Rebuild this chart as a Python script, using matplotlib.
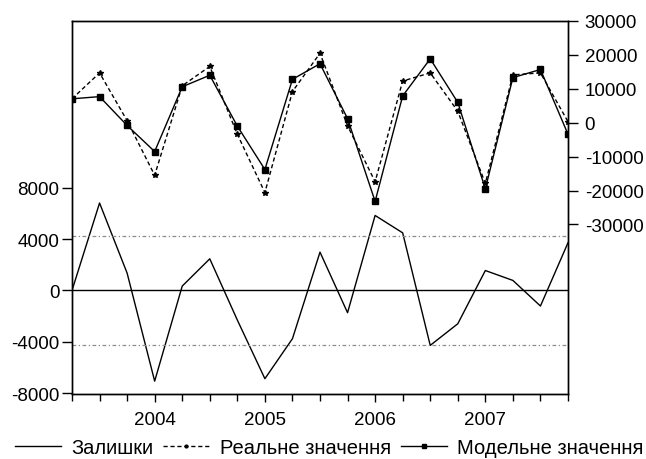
import matplotlib
matplotlib.use("Agg")
import matplotlib.pyplot as plt
from matplotlib.lines import Line2D
import numpy as np

plt.rcParams['font.family'] = ['Liberation Sans', 'DejaVu Sans']

# Quarterly observations 2003Q2 .. 2007Q4
quarters = ["2003Q2", "2003Q3", "2003Q4",
            "2004Q1", "2004Q2", "2004Q3", "2004Q4",
            "2005Q1", "2005Q2", "2005Q3", "2005Q4",
            "2006Q1", "2006Q2", "2006Q3", "2006Q4",
            "2007Q1", "2007Q2", "2007Q3", "2007Q4"]
actual = [7050, 14700, 600, -15500, 10900, 16600, -3400, -20600, 9200, 20500,
          -900, -17400, 12300, 14700, 3400, -17900, 14100, 14700, 300]
fitted = [7050, 7700, -800, -8500, 10600, 14000, -1000, -13800, 12800, 17400,
          1200, -23200, 7900, 18850, 6000, -19500, 13300, 15700, -3400]
residual = [0, 6800, 1350, -7050, 340, 2460, -2300, -6860, -3750, 2980,
            -1730, 5830, 4480, -4270, -2590, 1550, 780, -1210, 3710]
std_band = 4270
year_labels = ["2004", "2005", "2006", "2007"]
left_ticks = [-8000, -4000, 0, 4000, 8000]
right_ticks = [-30000, -20000, -10000, 0, 10000, 20000, 30000]
legend_labels = ["Залишки", "Реальне значення", "Модельне значення"]

x = np.arange(len(quarters))
year_pos = [quarters.index(y + "Q1") for y in year_labels]

W, H = 646, 460
fig = plt.figure(figsize=(W / 100, H / 100), dpi=100)
ax = fig.add_axes([72 / W, (H - 395) / H, 496 / W, 373 / H])
ax2 = ax.twinx()

fs = 13.5
fs_leg = 14.5

# residuals on left axis
ax.plot(x, residual, color='black', lw=1.0)
ax.axhline(0, color='black', lw=1.0)
ax.axhline(std_band, color='#8c8c8c', lw=0.9, ls=(0, (3, 2, 1, 2)))
ax.axhline(-std_band, color='#8c8c8c', lw=0.9, ls=(0, (3, 2, 1, 2)))
ax.set_ylim(-8050, 20950)
ax.set_yticks(left_ticks)
ax.set_yticklabels([str(v) for v in left_ticks], fontsize=fs)

# actual & fitted on right axis
ax2.plot(x, actual, color='black', lw=1.0, ls=(0, (3, 2)),
         marker='*', ms=4, mfc='black', mec='black')
ax2.plot(x, fitted, color='black', lw=1.0, marker='s', ms=4.5,
         mfc='black', mec='black')
ax2.set_ylim(-80000, 30000)
ax2.set_yticks(right_ticks)
ax2.set_yticklabels([str(v) for v in right_ticks], fontsize=fs)

ax.set_xlim(0, len(quarters) - 1)
ax.set_xticks(year_pos)
ax.set_xticklabels(year_labels, fontsize=fs)
ax.set_xticks(x, minor=True)
ax.tick_params(axis='x', which='major', length=6, width=1, direction='out', pad=6)
ax.tick_params(axis='x', which='minor', length=5, width=1, direction='out')
ax.tick_params(axis='y', length=7, width=1, direction='out', pad=2)
ax2.tick_params(axis='y', length=7, width=1, direction='out', pad=5)

for a in (ax, ax2):
    for s in a.spines.values():
        s.set_linewidth(1.0)
        s.set_color('black')

handles = [
    Line2D([], [], color='black', lw=1.0),
    Line2D([], [], color='black', lw=1.0, ls=(0, (3, 2)), marker='.', ms=4),
    Line2D([], [], color='black', lw=1.0, marker='s', ms=3),
]
fig.legend(handles, legend_labels, loc='center', bbox_to_anchor=(329 / W, 1 - 449 / H),
           ncol=3, frameon=False, fontsize=fs_leg, handlelength=2.3, handletextpad=0.5,
           columnspacing=0.5, borderpad=0)

fig.savefig("out.png", dpi=100)
